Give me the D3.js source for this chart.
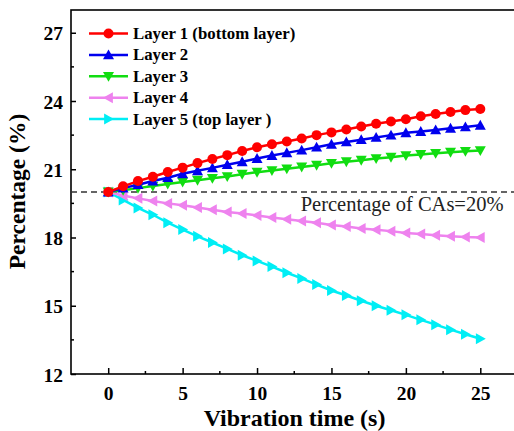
<!DOCTYPE html>
<html><head><meta charset="utf-8">
<script src="https://cdn.jsdelivr.net/npm/d3@7"></script>
<style>body{margin:0;background:#fff}svg{display:block}</style>
</head><body><svg id="c" width="514" height="431"></svg>
<script>
const times = d3.range(0, 26);
const layer1 = [20,20.25,20.48,20.67,20.88,21.07,21.27,21.45,21.62,21.8,21.97,22.1,22.22,22.35,22.5,22.62,22.75,22.88,23.0,23.1,23.2,23.33,23.43,23.52,23.6,23.65];
const layer2 = [20,20.17,20.32,20.48,20.63,20.8,20.93,21.06,21.2,21.33,21.47,21.6,21.72,21.84,21.97,22.1,22.2,22.3,22.4,22.5,22.6,22.66,22.73,22.8,22.86,22.93];
const layer3 = [20,20.08,20.17,20.26,20.35,20.44,20.52,20.6,20.68,20.78,20.87,20.94,21.02,21.1,21.18,21.26,21.33,21.4,21.47,21.53,21.6,21.65,21.7,21.75,21.79,21.82];
const layer4 = [20,19.85,19.72,19.6,19.5,19.42,19.32,19.22,19.12,19.05,18.97,18.88,18.8,18.73,18.65,18.55,18.48,18.4,18.34,18.28,18.2,18.15,18.1,18.06,18.02,18.0];
const layer5 = [20,19.65,19.3,19.0,18.65,18.35,18.05,17.78,17.5,17.22,16.97,16.72,16.45,16.2,15.93,15.67,15.45,15.22,15.0,14.8,14.6,14.38,14.17,13.95,13.75,13.55];
const seriesNames = ["Layer 1 (bottom layer)","Layer 2","Layer 3","Layer 4","Layer 5 (top layer )"];
const seriesColors = ["#ff0000","#0000ee","#11dd11","#ee82ee","#00eef5"];
const seriesMarkers = ["circle","up","down","left","right"];
const xTicks = [0,5,10,15,20,25];
const yTicks = [12,15,18,21,24,27];
const refValue = 20;
const refLabel = "Percentage of CAs=20%";
const xTitle = "Vibration time (s)";
const yTitle = "Percentage (%)";

const FONT = "'Liberation Serif', 'Times New Roman', serif";
const svg = d3.select("#c");
const L = 71, R = 517.5, T = 10, B = 374;
const x = d3.scaleLinear().domain([-2.5, 27.5]).range([L, R]);
const y = d3.scaleLinear().domain([12, 28]).range([B, T]);

const allSeries = [layer1, layer2, layer3, layer4, layer5];

svg.append("rect").attr("x", L).attr("y", T).attr("width", R - L).attr("height", B - T)
  .attr("fill", "none").attr("stroke", "#000").attr("stroke-width", 1.6);

const xMinor = [2.5,7.5,12.5,17.5,22.5];
const gx = svg.append("g").attr("transform", `translate(0,${B})`);
gx.call(d3.axisBottom(x).tickValues(xTicks).tickSize(-6).tickPadding(12).tickFormat(d3.format("d")));
gx.select(".domain").remove();
gx.selectAll(".tick line").attr("stroke-width", 1.5);
gx.selectAll(".tick text").style("font-size", "19.5px").style("font-weight", "bold").style("font-family", FONT);
gx.selectAll(".minor").data(xMinor).enter().append("line")
  .attr("x1", d => x(d)).attr("x2", d => x(d)).attr("y1", 0).attr("y2", -3).attr("stroke", "#000").attr("stroke-width", 1.5);

const yMinor = [13.5,16.5,19.5,22.5,25.5];
const gy = svg.append("g").attr("transform", `translate(${L},0)`);
gy.call(d3.axisLeft(y).tickValues(yTicks).tickSize(-5).tickPadding(8).tickFormat(d3.format("d")));
gy.select(".domain").remove();
gy.selectAll(".tick line").attr("stroke-width", 1.5);
gy.selectAll(".tick text").style("font-size", "19.5px").style("font-weight", "bold").style("font-family", FONT).attr("dy", "0.36em");
gy.selectAll(".minor").data(yMinor).enter().append("line")
  .attr("y1", d => y(d)).attr("y2", d => y(d)).attr("x1", 0).attr("x2", 3).attr("stroke", "#000").attr("stroke-width", 1.5);

svg.append("line").attr("x1", L).attr("x2", R).attr("y1", y(refValue)).attr("y2", y(refValue))
  .attr("stroke", "#333").attr("stroke-width", 1.3).attr("stroke-dasharray", "6,4");
svg.append("text").attr("x", 503.5).attr("y", y(refValue) + 19).attr("text-anchor", "end")
  .style("font-size", "20.5px").style("font-family", FONT).attr("fill", "#222").text(refLabel);

function markerPath(type, s) {
  const h = s * 0.55;
  if (type === "up") return `M0,${-h}L${h},${h*0.8}L${-h},${h*0.8}Z`;
  if (type === "down") return `M0,${h}L${h},${-h*0.8}L${-h},${-h*0.8}Z`;
  if (type === "left") return `M${-h},0L${h*0.8},${-h}L${h*0.8},${h}Z`;
  return `M${h},0L${-h*0.8},${-h}L${-h*0.8},${h}Z`;
}
function drawMarker(g, type, color, cx, cy, s) {
  if (type === "circle") g.append("circle").attr("cx", cx).attr("cy", cy).attr("r", s * 0.5).attr("fill", color);
  else g.append("path").attr("transform", `translate(${cx},${cy})`).attr("d", markerPath(type, s)).attr("fill", color);
}

const line = d3.line().x((d, i) => x(times[i])).y(d => y(d));
for (let k = allSeries.length - 1; k >= 0; k--) {
  const g = svg.append("g");
  g.append("path").datum(allSeries[k]).attr("d", line).attr("fill", "none")
    .attr("stroke", seriesColors[k]).attr("stroke-width", 2.5);
  allSeries[k].forEach((v, i) => drawMarker(g, seriesMarkers[k], seriesColors[k], x(times[i]), y(v), 10));
}

const legY0 = 33.5, legDy = 21.4;
seriesNames.forEach((name, k) => {
  const g = svg.append("g");
  const yy = legY0 + k * legDy;
  g.append("line").attr("x1", 89).attr("x2", 128).attr("y1", yy).attr("y2", yy)
    .attr("stroke", seriesColors[k]).attr("stroke-width", 2.5);
  drawMarker(g, seriesMarkers[k], seriesColors[k], 108.5, yy, 10);
  g.append("text").attr("x", 133).attr("y", yy + 5.5).style("font-size", "16.8px").style("font-weight", "bold")
    .style("font-family", FONT).text(name);
});

svg.append("text").attr("x", 294.5).attr("y", 425.5).attr("text-anchor", "middle")
  .style("font-size", "24px").style("font-weight", "bold").style("font-family", FONT).text(xTitle);
svg.append("text").attr("transform", `translate(25,191.5) rotate(-90)`).attr("text-anchor", "middle")
  .style("font-size", "23.5px").style("font-weight", "bold").style("font-family", FONT).text(yTitle);
</script></body></html>
